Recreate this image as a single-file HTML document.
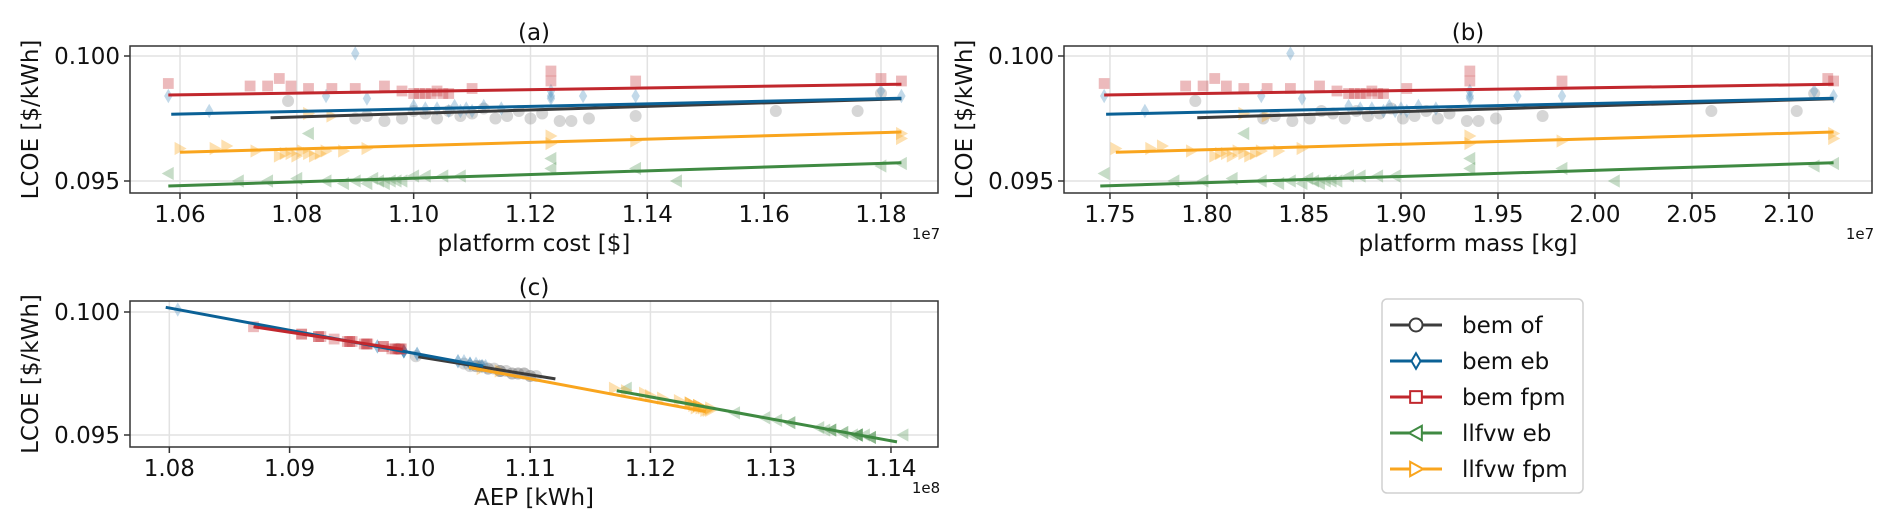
<!DOCTYPE html>
<html><head><meta charset="utf-8"><style>
html,body{margin:0;padding:0;background:#fff}
svg{display:block;font-family:"DejaVu Sans","Liberation Sans",sans-serif}
</style></head><body>
<svg id="fig" width="1892" height="528" viewBox="0 0 1892 528" xmlns="http://www.w3.org/2000/svg"></svg>
<script>
// ---- data ----
const ofCost=[1.0785,1.090,1.092,1.095,1.098,1.100,1.102,1.104,1.106,1.108,1.110,1.112,1.114,1.116,1.118,1.120,1.122,1.125,1.127,1.130,1.138,1.162,1.176,1.180];
const ofMass=[1.794,1.829,1.835,1.844,1.853,1.859,1.865,1.871,1.877,1.883,1.889,1.895,1.901,1.907,1.913,1.919,1.925,1.934,1.940,1.949,1.973,2.060,2.104,2.113];
const ofAep=[1.1005,1.109,1.1075,1.110,1.1085,1.1055,1.107,1.1095,1.106,1.108,1.1065,1.1045,1.109,1.1075,1.105,1.1085,1.1065,1.110,1.1105,1.1095,1.1075,1.1055,1.1058,1.099];
const ofLcoe=[0.0982,0.0975,0.0976,0.0974,0.0975,0.0978,0.0977,0.0975,0.0978,0.0976,0.0977,0.0979,0.0975,0.0976,0.0978,0.0975,0.0977,0.0974,0.0974,0.0975,0.0976,0.0978,0.0978,0.0985];
const ebCost=[1.058,1.065,1.085,1.090,1.092,1.100,1.102,1.104,1.106,1.107,1.108,1.109,1.110,1.112,1.115,1.1235,1.1235,1.1235,1.129,1.138,1.180,1.1835];
const ebMass=[1.747,1.768,1.828,1.843,1.849,1.873,1.879,1.885,1.891,1.894,1.897,1.900,1.903,1.909,1.918,1.9355,1.9355,1.9355,1.960,1.983,2.113,2.123];
const ebAep=[1.0995,1.106,1.0995,1.0807,1.1006,1.104,1.105,1.1055,1.106,1.1045,1.1058,1.105,1.1063,1.104,1.105,1.0995,1.1006,1.0973,1.0995,1.0995,1.0973,1.0995];
const ebLcoe=[0.0984,0.0978,0.0984,0.1001,0.0983,0.0980,0.0979,0.0979,0.0978,0.0980,0.0978,0.0979,0.0978,0.0980,0.0979,0.0984,0.0983,0.0986,0.0984,0.0984,0.0986,0.0984];
const fpmCost=[1.058,1.072,1.075,1.077,1.079,1.082,1.086,1.090,1.095,1.098,1.100,1.101,1.102,1.103,1.104,1.105,1.106,1.110,1.1235,1.1235,1.138,1.180,1.1835];
const fpmMass=[1.747,1.789,1.798,1.804,1.810,1.819,1.831,1.843,1.858,1.867,1.873,1.876,1.879,1.882,1.885,1.888,1.891,1.903,1.9355,1.9355,1.983,2.120,2.123];
const fpmAep=[1.0937,1.095,1.0952,1.091,1.0948,1.0964,1.0962,1.0965,1.095,1.0978,1.0991,1.0985,1.0993,1.0988,1.0978,1.0990,1.0992,1.0964,1.087,1.0924,1.0924,1.091,1.0926];
const fpmLcoe=[0.0989,0.0988,0.0988,0.0991,0.0988,0.0987,0.0987,0.0987,0.0988,0.0986,0.0985,0.0985,0.0985,0.0985,0.0986,0.0985,0.0985,0.0987,0.0994,0.0990,0.0990,0.0991,0.0990];
const leCost=[1.058,1.070,1.075,1.080,1.082,1.085,1.088,1.090,1.092,1.093,1.094,1.095,1.096,1.097,1.098,1.100,1.102,1.105,1.108,1.1235,1.1235,1.138,1.145,1.180,1.1835];
const leMass=[1.747,1.783,1.798,1.813,1.819,1.828,1.837,1.843,1.849,1.852,1.855,1.858,1.861,1.864,1.867,1.873,1.879,1.888,1.897,1.9355,1.9355,1.983,2.010,2.113,2.123];
const leAep=[1.134,1.1372,1.1372,1.136,1.118,1.1372,1.1383,1.1372,1.1383,1.136,1.1372,1.1383,1.1378,1.1372,1.1368,1.135,1.135,1.135,1.1345,1.127,1.1316,1.1316,1.1410,1.1305,1.1295];
const leLcoe=[0.0953,0.0950,0.0950,0.0951,0.0969,0.0950,0.0949,0.0950,0.0949,0.0951,0.0950,0.0949,0.0950,0.0950,0.0950,0.0952,0.0952,0.0952,0.0952,0.0959,0.0955,0.0955,0.0950,0.0956,0.0957];
const lfCost=[1.060,1.066,1.068,1.073,1.077,1.078,1.079,1.080,1.081,1.082,1.083,1.084,1.085,1.088,1.092,1.082,1.086,1.1235,1.1235,1.138,1.1835,1.1835];
const lfMass=[1.753,1.771,1.777,1.792,1.804,1.807,1.810,1.813,1.816,1.819,1.822,1.825,1.828,1.837,1.849,1.819,1.831,1.9355,1.9355,1.983,2.123,2.123];
const lfAep=[1.1233,1.1233,1.1224,1.124,1.1246,1.1250,1.1242,1.1248,1.1236,1.1244,1.1250,1.1238,1.124,1.124,1.1233,1.106,1.1075,1.121,1.118,1.120,1.117,1.1195];
const lfLcoe=[0.0963,0.0963,0.0964,0.0962,0.0960,0.0961,0.0961,0.0960,0.0962,0.0961,0.0960,0.0961,0.0962,0.0962,0.0963,0.0977,0.0976,0.0965,0.0968,0.0966,0.0969,0.0967];
// fit line endpoints
const fitCostX={of:[1.0755,1.1835],eb:[1.0585,1.1835],fpm:[1.058,1.1835],le:[1.058,1.1835],lf:[1.060,1.1835]};
const fitMassX={of:[1.795,2.123],eb:[1.748,2.123],fpm:[1.747,2.123],le:[1.745,2.123],lf:[1.753,2.123]};
const fitPlatY={of:[0.09753,0.09829],eb:[0.09767,0.09831],fpm:[0.09844,0.09887],le:[0.09480,0.09573],lf:[0.09615,0.09696]};
const fitAepX={of:[1.1007,1.1121],eb:[1.0797,1.1061],fpm:[1.087,1.0994],le:[1.1172,1.1405],lf:[1.1049,1.1246]};
const fitAepY={of:[0.09818,0.09728],eb:[0.10019,0.0978],fpm:[0.0994,0.09848],le:[0.0968,0.09472],lf:[0.09775,0.09595]};
const costTicks=[1.06,1.08,1.10,1.12,1.14,1.16,1.18];
const massTicks=[1.75,1.80,1.85,1.90,1.95,2.00,2.05,2.10];
const aepTicks=[1.08,1.09,1.10,1.11,1.12,1.13,1.14];
const yTicks=[0.095,0.100];

const NS="http://www.w3.org/2000/svg";
const svg=document.getElementById('fig');
function mk(tag,attrs,parent){const e=document.createElementNS(NS,tag);for(const k in attrs)e.setAttribute(k,attrs[k]);(parent||svg).appendChild(e);return e;}
const series=[
 {k:'of',name:'bem of',line:'#3c3c3c',pt:'#8a8a8a',m:'circle',cost:ofCost,mass:ofMass,aep:ofAep,lcoe:ofLcoe},
 {k:'eb',name:'bem eb',line:'#0b6196',pt:'#4f93c0',m:'diamond',cost:ebCost,mass:ebMass,aep:ebAep,lcoe:ebLcoe},
 {k:'fpm',name:'bem fpm',line:'#c1272d',pt:'#c93a40',m:'square',cost:fpmCost,mass:fpmMass,aep:fpmAep,lcoe:fpmLcoe},
 {k:'le',name:'llfvw eb',line:'#3f8a42',pt:'#5c9c5e',m:'left',cost:leCost,mass:leMass,aep:leAep,lcoe:leLcoe},
 {k:'lf',name:'llfvw fpm',line:'#f9a51e',pt:'#f9a51e',m:'right',cost:lfCost,mass:lfMass,aep:lfAep,lcoe:lfLcoe}
];
function marker(g,type,x,y,fill,stroke,op,s){
 let e;
 if(type==='circle')e=mk('circle',{cx:x,cy:y,r:s*0.5},g);
 else if(type==='square')e=mk('rect',{x:x-s*0.45,y:y-s*0.45,width:s*0.9,height:s*0.9},g);
 else if(type==='diamond')e=mk('polygon',{points:`${x},${y-s*0.6} ${x+s*0.35},${y} ${x},${y+s*0.6} ${x-s*0.35},${y}`},g);
 else if(type==='left')e=mk('polygon',{points:`${x-s*0.55},${y} ${x+s*0.45},${y-s*0.55} ${x+s*0.45},${y+s*0.55}`},g);
 else e=mk('polygon',{points:`${x+s*0.55},${y} ${x-s*0.45},${y-s*0.55} ${x-s*0.45},${y+s*0.55}`},g);
 e.setAttribute('fill',fill);e.setAttribute('fill-opacity',op);
 if(stroke){e.setAttribute('stroke',stroke);e.setAttribute('stroke-width',2);}
 return e;
}
function panel(cfg){
 const {id,L,R,T,B,x0,x1,y0,y1,xt,xfmt,xKey,fitX,fitY,title,xlabel,offs,yLabX}=cfg;
 const sx=v=>L+(v-x0)/(x1-x0)*(R-L), sy=v=>B-(v-y0)/(y1-y0)*(B-T);
 const g=mk('g',{});
 
 
 mk('rect',{x:L,y:T,width:R-L,height:B-T,fill:'#fff'},g);
 xt.forEach(v=>{mk('line',{x1:sx(v),x2:sx(v),y1:T,y2:B,stroke:'#e2e2e2','stroke-width':1.5},g);
  mk('line',{x1:sx(v),x2:sx(v),y1:B,y2:B+6,stroke:'#333','stroke-width':1.5},g);
  const t=mk('text',{x:sx(v),y:B+29,'text-anchor':'middle','font-size':23,fill:'#111'},g);t.textContent=v.toFixed(xfmt);
  });
 yTicks.forEach(v=>{mk('line',{x1:L,x2:R,y1:sy(v),y2:sy(v),stroke:'#e2e2e2','stroke-width':1.5},g);
  mk('line',{x1:L-6,x2:L,y1:sy(v),y2:sy(v),stroke:'#333','stroke-width':1.5},g);
  const t=mk('text',{x:L-10,y:sy(v)+8,'text-anchor':'end','font-size':23,fill:'#111'},g);t.textContent=v.toFixed(3);
  });
 const pts=mk('g',{},g);
 
 
 series.forEach(s=>{s[xKey].forEach((xv,i)=>{const e=marker(pts,s.m,sx(xv),sy(s.lcoe[i]),s.pt,null,0.35,12);
  
  });});
 series.forEach(s=>{const l=mk('line',{x1:sx(fitX[s.k][0]),x2:sx(fitX[s.k][1]),y1:sy(fitY[s.k][0]),y2:sy(fitY[s.k][1]),stroke:s.line,'stroke-width':3},g);
  });
 mk('rect',{x:L,y:T,width:R-L,height:B-T,fill:'none',stroke:'#333','stroke-width':1.5},g);
 const tt=mk('text',{x:(L+R)/2,y:T-6,'text-anchor':'middle','font-size':23,fill:'#111'},g);tt.textContent=title;
 
 const xl=mk('text',{x:(L+R)/2,y:B+58,'text-anchor':'middle','font-size':23,fill:'#111'},g);xl.textContent=xlabel;
 
 const of=mk('text',{x:R-12,y:B+46,'text-anchor':'middle','font-size':15,fill:'#111'},g);of.textContent=offs;
 
 const yl=mk('text',{x:yLabX,y:(T+B)/2,'text-anchor':'middle','font-size':23,fill:'#111',transform:`rotate(-90 ${yLabX} ${(T+B)/2})`},g);yl.textContent='LCOE [$/kWh]';
 
}
panel({id:'panel-a',L:130,R:938,T:46,B:193,x0:1.05144,x1:1.18976,y0:0.09452,y1:0.1004,xt:costTicks,xfmt:2,xKey:'cost',fitX:fitCostX,fitY:fitPlatY,title:'(a)',xlabel:'platform cost [$]',offs:'1e7',yLabX:38});
panel({id:'panel-b',L:1064,R:1872,T:46,B:193,x0:1.7263,x1:2.1428,y0:0.09452,y1:0.1004,xt:massTicks,xfmt:2,xKey:'mass',fitX:fitMassX,fitY:fitPlatY,title:'(b)',xlabel:'platform mass [kg]',offs:'1e7',yLabX:972});
panel({id:'panel-c',L:130,R:938,T:301,B:447,x0:1.07673,x1:1.14391,y0:0.094512,y1:0.100447,xt:aepTicks,xfmt:2,xKey:'aep',fitX:fitAepX,fitY:fitAepY,title:'(c)',xlabel:'AEP [kWh]',offs:'1e8',yLabX:38});
// legend
const lg=mk('g',{});


mk('rect',{x:1382,y:299,width:201,height:194,rx:5,fill:'#fff',stroke:'#d0d0d0','stroke-width':1.5},lg);
series.forEach((s,i)=>{const y=325+i*36;
 const eg=mk('g',{},lg);
 
 
 mk('line',{x1:1390,x2:1442,y1:y,y2:y,stroke:s.line,'stroke-width':3},eg);
 marker(eg,s.m,1416,y,'#fff',s.line,1,13);
 const t=mk('text',{x:1462,y:y+8,'font-size':23,fill:'#111'},eg);t.textContent=s.name;});
</script>
</body></html>
